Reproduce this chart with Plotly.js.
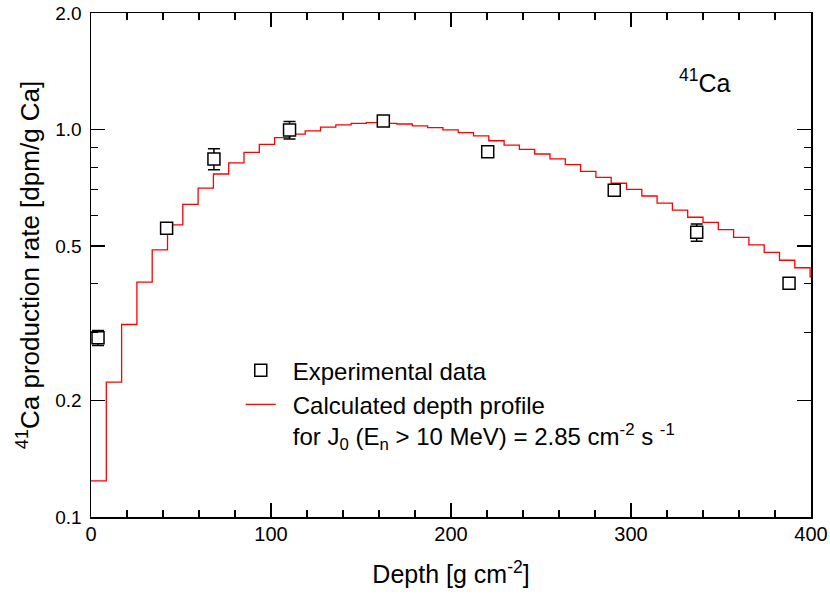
<!DOCTYPE html>
<html>
<head>
<meta charset="utf-8">
<script src="https://cdn.plot.ly/plotly-3.0.1.min.js"></script>
<style>html,body{margin:0;padding:0;background:#fff;}#chart{width:830px;height:599px;}</style>
</head>
<body>
<div id="chart"></div>
<script>
// Experimental data
const expDepth = [3.9, 42.0, 68.3, 110.3, 162.4, 220.4, 290.7, 336.5, 387.8];
const expRate  = [0.290, 0.556, 0.840, 0.998, 1.053, 0.877, 0.697, 0.543, 0.401];
const expErr   = [0.013, 0.015, 0.052, 0.052, 0.015, 0.012, 0.012, 0.028, 0.006];

// Calculated depth profile (histogram bins, left edges)
const binStart = [0, 8.5, 17, 25.5, 34, 42.5, 51, 59.5, 68, 76.5, 85, 93.5, 102, 110.5,
  119, 127.5, 136, 144.5, 153, 161.5, 170, 178.5, 187, 195.5, 204, 212.5, 221, 229.5,
  238, 246.5, 255, 263.5, 272, 280.5, 289, 297.5, 306, 314.5, 323, 331.5, 340, 348.5,
  357, 365.5, 374, 382.5, 391, 399.5];
const calcRate = [0.124, 0.223, 0.314, 0.404, 0.489, 0.568, 0.641, 0.706, 0.768, 0.821,
  0.873, 0.916, 0.953, 0.974, 0.993, 1.015, 1.028, 1.038, 1.042, 1.038, 1.034, 1.022,
  1.012, 0.998, 0.982, 0.963, 0.936, 0.912, 0.889, 0.865, 0.840, 0.812, 0.780, 0.753,
  0.727, 0.701, 0.674, 0.646, 0.620, 0.594, 0.576, 0.552, 0.527, 0.504, 0.482, 0.460,
  0.440, 0.417];
const depthMax = 400;

const yTickVals = [0.1, 0.2, 0.5, 1, 2];
const yTickText = ['0.1', '0.2', '0.5', '1.0', '2.0'];
const yMinorVals = [0.3, 0.4, 0.6, 0.7, 0.8, 0.9];
const xTickVals = [0, 100, 200, 300, 400];
const xTickText = ['0', '100', '200', '300', '400'];

const FONT = 'Liberation Sans, Arial, Helvetica, sans-serif';
const pad = '\u2002';

const lineX = binStart.concat([depthMax]);
const lineY = calcRate.concat([calcRate[calcRate.length - 1]]);

const traces = [
  {
    x: lineX, y: lineY, type: 'scatter', mode: 'lines',
    line: {shape: 'hv', color: '#ff0000', width: 1.3},
    name: pad + 'Calculated depth profile<br>' + pad + 'for J<sub>0</sub> (E<sub>n</sub> &gt; 10 MeV) = 2.85 cm<sup>-2</sup> s <sup>-1</sup>',
    legendrank: 2
  },
  {
    x: expDepth, y: expRate, type: 'scatter', mode: 'markers',
    marker: {symbol: 'square', size: 12, color: '#fff', line: {width: 1.5, color: '#000'}},
    error_y: {type: 'data', array: expErr, visible: true, color: '#000', thickness: 1.5, width: 6},
    name: pad + 'Experimental data',
    legendrank: 1
  }
];

const layout = {
  width: 830, height: 599,
  margin: {l: 91, r: 19, t: 13, b: 82},
  paper_bgcolor: '#fff', plot_bgcolor: '#fff',
  font: {family: FONT, color: '#000'},
  showlegend: true,
  legend: {
    x: 0.208, y: 0.335, xanchor: 'left', yanchor: 'top',
    bgcolor: 'rgba(0,0,0,0)', borderwidth: 0,
    font: {family: FONT, size: 24, color: '#000'},
    valign: 'top', traceorder: 'normal'
  },
  xaxis: {
    range: [0, depthMax], showgrid: false, zeroline: false,
    showline: true, linecolor: '#000', linewidth: 1.5, mirror: 'ticks',
    ticks: 'inside', ticklen: 14, tickwidth: 1.5, tickcolor: '#000',
    tickmode: 'array', tickvals: xTickVals, ticktext: xTickText,
    tickfont: {family: FONT, size: 20, color: '#000'},
    ticklabelstandoff: -2,
    minor: {dtick: 20, ticks: 'inside', ticklen: 7, tickwidth: 1.2, tickcolor: '#000', showgrid: false},
    title: {text: 'Depth [g cm<sup>-2</sup>]', font: {family: FONT, size: 25, color: '#000'}, standoff: 22}
  },
  yaxis: {
    type: 'log', range: [-1, Math.log10(2)], showgrid: false, zeroline: false,
    showline: true, linecolor: '#000', linewidth: 1.5, mirror: 'ticks',
    ticks: 'inside', ticklen: 14, tickwidth: 1.5, tickcolor: '#000',
    tickmode: 'array', tickvals: yTickVals, ticktext: yTickText,
    tickfont: {family: FONT, size: 19, color: '#000'},
    ticklabelstandoff: 4,
    minor: {tickmode: 'array', tickvals: yMinorVals, ticks: 'inside', ticklen: 7, tickwidth: 1.2, tickcolor: '#000', showgrid: false},
    title: {text: '<sup>41</sup>Ca production rate [dpm/g Ca]', font: {family: FONT, size: 26, color: '#000'}, standoff: 8}
  },
  annotations: [
    {xref: 'paper', yref: 'paper', x: 0.853, y: 0.865, xanchor: 'center', yanchor: 'middle',
     text: '<sup>41</sup>Ca', showarrow: false, font: {family: FONT, size: 25, color: '#000'}}
  ]
};

Plotly.newPlot('chart', traces, layout, {staticPlot: true, displayModeBar: false});
</script>
</body>
</html>
